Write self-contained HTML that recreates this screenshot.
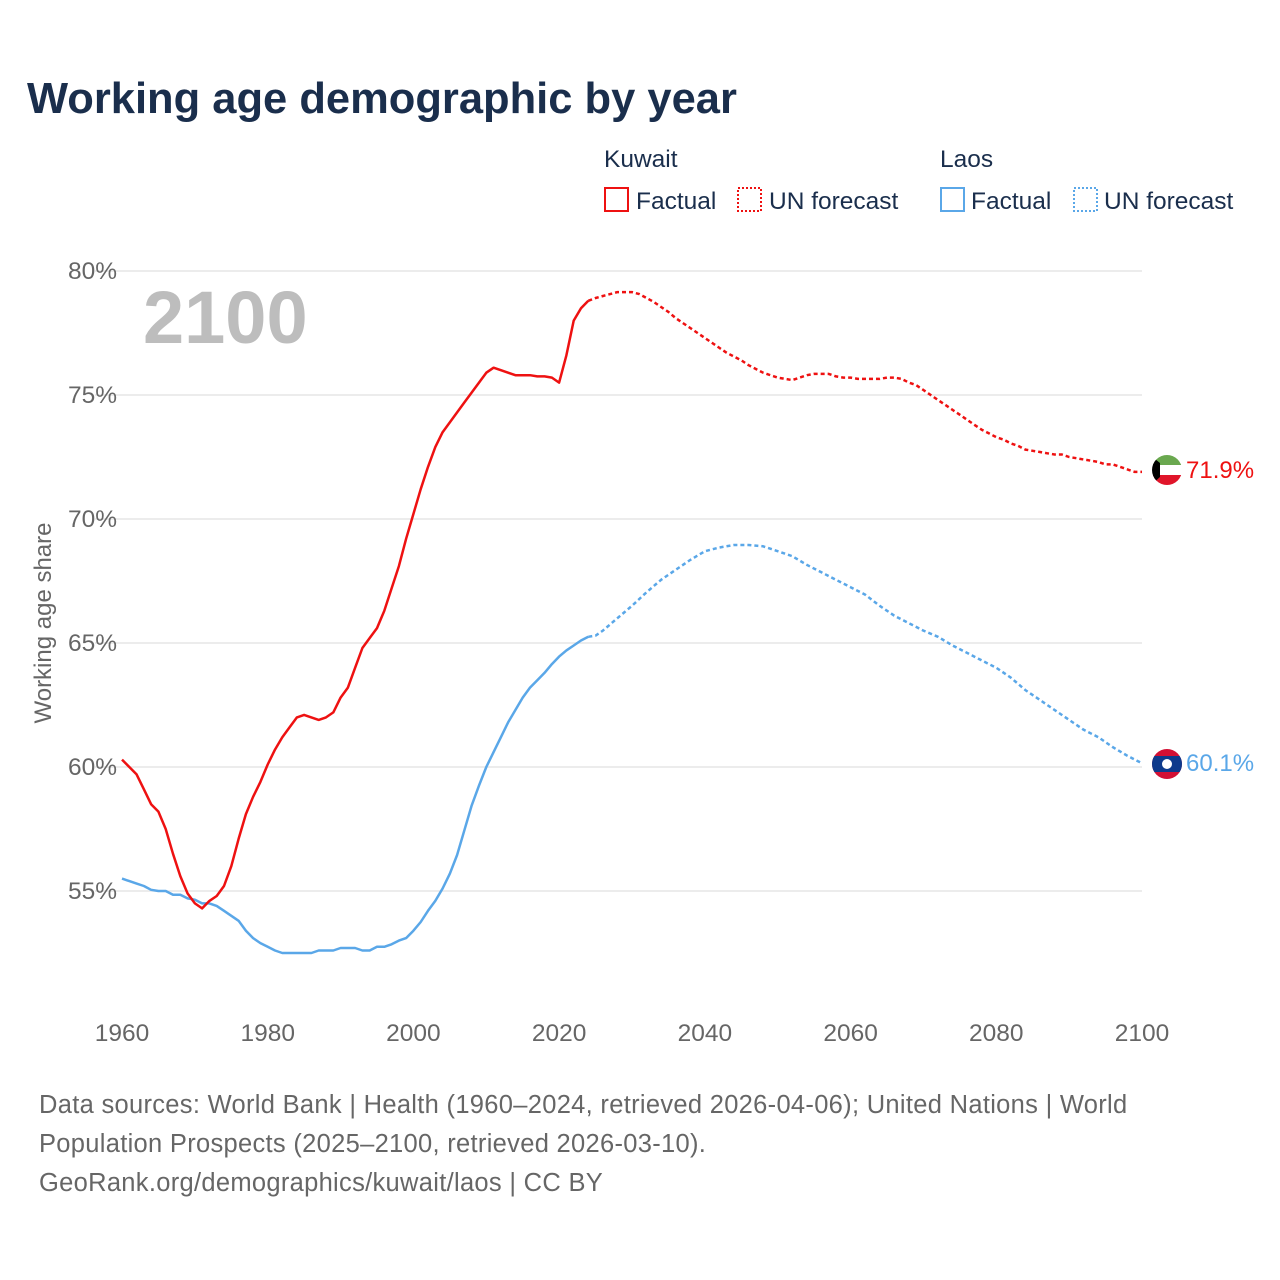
<!DOCTYPE html>
<html><head><meta charset="utf-8">
<style>
body{margin:0;background:#fff;font-family:"Liberation Sans",sans-serif;}
#wrap{position:relative;width:1280px;height:1280px;overflow:hidden;}
</style></head>
<body>
<div id="wrap">
<svg id="chart" width="1280" height="1280" viewBox="0 0 1280 1280">
<text x="27" y="113" font-size="43.5" font-weight="bold" fill="#1a2e4c" font-family="Liberation Sans, sans-serif">Working age demographic by year</text>
<g font-size="24.5" fill="#1a2e4c">
<text x="604" y="167">Kuwait</text>
<rect x="605" y="188" width="23" height="23" fill="none" stroke="#ee1111" stroke-width="2"/>
<text x="636" y="209">Factual</text>
<rect x="738" y="188" width="23" height="23" fill="none" stroke="#ee1111" stroke-width="2" stroke-dasharray="2,2"/>
<text x="769" y="209">UN forecast</text>
<text x="940" y="167">Laos</text>
<rect x="941" y="188" width="23" height="23" fill="none" stroke="#5aa7e8" stroke-width="2"/>
<text x="971" y="209">Factual</text>
<rect x="1074" y="188" width="23" height="23" fill="none" stroke="#5aa7e8" stroke-width="2" stroke-dasharray="2,2"/>
<text x="1104" y="209">UN forecast</text>
</g>
<g id="grid"></g>
<text x="143" y="343" font-size="74" font-weight="bold" fill="#bdbdbd">2100</text>
<text transform="translate(51,623) rotate(-90)" text-anchor="middle" font-size="24" fill="#666">Working age share</text>
<g id="series"></g>
<g>
<clipPath id="ck"><circle cx="1167" cy="470" r="15"/></clipPath>
<g clip-path="url(#ck)">
<rect x="1150" y="455" width="34" height="10" fill="#6aa84f"/>
<rect x="1150" y="465" width="34" height="10" fill="#fff"/>
<rect x="1150" y="475" width="34" height="11" fill="#e0152a"/>
<polygon points="1150,455 1160,463 1160,477 1150,486" fill="#000"/>
</g></g>
<g>
<clipPath id="cl"><circle cx="1167" cy="764" r="15"/></clipPath>
<g clip-path="url(#cl)">
<rect x="1150" y="748" width="34" height="34" fill="#d21034"/>
<rect x="1150" y="756" width="34" height="16" fill="#0d3a8c"/>
<circle cx="1167" cy="764" r="5" fill="#fff"/>
</g></g>
<text x="1186" y="478" font-size="24" fill="#ee1111">71.9%</text>
<text x="1186" y="771" font-size="24" fill="#5aa7e8">60.1%</text>
<g font-size="25.5" fill="#666" letter-spacing="0.3">
<text x="39" y="1113">Data sources: World Bank | Health (1960–2024, retrieved 2026-04-06); United Nations | World</text>
<text x="39" y="1152">Population Prospects (2025–2100, retrieved 2026-03-10).</text>
<text x="39" y="1191">GeoRank.org/demographics/kuwait/laos | CC BY</text>
</g>
</svg>
</div>
<script>
const yTicks=[55,60,65,70,75,80];
const xTicks=[1960,1980,2000,2020,2040,2060,2080,2100];
const kwFactYears=[];for(let y=1960;y<=2024;y++)kwFactYears.push(y);
const kwFactVals=[60.3,60.0,59.7,59.1,58.5,58.2,57.5,56.5,55.6,54.9,54.5,54.3,54.6,54.8,55.2,56.0,57.1,58.1,58.8,59.4,60.1,60.7,61.2,61.6,62.0,62.1,62.0,61.9,62.0,62.2,62.8,63.2,64.0,64.8,65.2,65.6,66.3,67.2,68.1,69.2,70.2,71.2,72.1,72.9,73.5,73.9,74.3,74.7,75.1,75.5,75.9,76.1,76.0,75.9,75.8,75.8,75.8,75.75,75.75,75.7,75.5,76.6,78.0,78.5,78.8];
const kwFcYears=[];for(let y=2024;y<=2100;y++)kwFcYears.push(y);
const kwFcVals=[78.8,78.91,78.99,79.07,79.15,79.15,79.15,79.07,78.91,78.75,78.55,78.35,78.1,77.9,77.7,77.5,77.3,77.1,76.9,76.7,76.55,76.4,76.2,76.05,75.9,75.8,75.7,75.65,75.6,75.7,75.8,75.85,75.85,75.85,75.75,75.7,75.7,75.65,75.65,75.65,75.65,75.7,75.7,75.65,75.5,75.4,75.2,75.0,74.8,74.6,74.4,74.2,74.0,73.8,73.6,73.45,73.3,73.2,73.05,72.95,72.8,72.75,72.7,72.65,72.6,72.6,72.5,72.45,72.4,72.35,72.3,72.2,72.2,72.1,72.0,71.9,71.9];
const laFactYears=[];for(let y=1960;y<=2024;y++)laFactYears.push(y);
const laFactVals=[55.5,55.4,55.3,55.2,55.05,55.0,55.0,54.85,54.85,54.7,54.65,54.5,54.5,54.4,54.2,54.0,53.8,53.4,53.1,52.9,52.75,52.6,52.5,52.5,52.5,52.5,52.5,52.6,52.6,52.6,52.7,52.7,52.7,52.6,52.6,52.75,52.75,52.85,53.0,53.1,53.4,53.75,54.2,54.6,55.1,55.7,56.45,57.45,58.45,59.25,60.0,60.6,61.2,61.8,62.3,62.8,63.2,63.5,63.8,64.15,64.45,64.7,64.9,65.1,65.25];
const laFcYears=[2024,2025,2026,2027,2028,2029,2030,2032,2034,2036,2038,2040,2042,2044,2046,2048,2050,2052,2054,2056,2058,2060,2062,2064,2066,2068,2070,2072,2074,2076,2078,2080,2082,2084,2086,2088,2090,2092,2094,2096,2098,2100];
const laFcVals=[65.25,65.3,65.5,65.75,66.0,66.25,66.5,67.05,67.55,67.95,68.35,68.7,68.85,68.95,68.95,68.9,68.7,68.5,68.15,67.85,67.55,67.25,66.95,66.5,66.1,65.8,65.5,65.25,64.9,64.6,64.3,64.0,63.6,63.1,62.7,62.3,61.9,61.5,61.2,60.8,60.45,60.15];
const NS='http://www.w3.org/2000/svg';
function X(yr){return 122+(yr-1960)*(1142-122)/140;}
function Y(v){return 271+(80-v)*24.8;}
const grid=document.getElementById('grid');
yTicks.forEach(t=>{
 const l=document.createElementNS(NS,'line');
 l.setAttribute('x1',95);l.setAttribute('x2',1142);l.setAttribute('y1',Y(t));l.setAttribute('y2',Y(t));
 l.setAttribute('stroke','#e6e6e6');l.setAttribute('stroke-width','1.5');
 
 
 grid.appendChild(l);
 const tx=document.createElementNS(NS,'text');
 tx.setAttribute('x',117);tx.setAttribute('y',Y(t)+8);tx.setAttribute('text-anchor','end');
 tx.setAttribute('font-size','24.5');tx.setAttribute('fill','#666');tx.textContent=t+'%';
 
 
 grid.appendChild(tx);
});
xTicks.forEach(t=>{
 const tx=document.createElementNS(NS,'text');
 tx.setAttribute('x',X(t));tx.setAttribute('y',1041);tx.setAttribute('text-anchor','middle');
 tx.setAttribute('font-size','24.5');tx.setAttribute('fill','#666');tx.textContent=t;
 
 
 grid.appendChild(tx);
});
const ser=document.getElementById('series');
function line(years,vals,color,dash,name){
 const p=document.createElementNS(NS,'polyline');
 p.setAttribute('points',years.map((y,i)=>X(y).toFixed(1)+','+Y(vals[i]).toFixed(1)).join(' '));
 p.setAttribute('fill','none');p.setAttribute('stroke',color);p.setAttribute('stroke-width','2.5');
 p.setAttribute('stroke-linejoin','round');
 if(dash)p.setAttribute('stroke-dasharray','4,3');
 
 
 ser.appendChild(p);
}
line(laFactYears,laFactVals,'#5aa7e8',false,'laos-factual-line');
line(laFcYears,laFcVals,'#5aa7e8',true,'laos-forecast-line');
line(kwFactYears,kwFactVals,'#ee1111',false,'kuwait-factual-line');
line(kwFcYears,kwFcVals,'#ee1111',true,'kuwait-forecast-line');
</script>
</body></html>
